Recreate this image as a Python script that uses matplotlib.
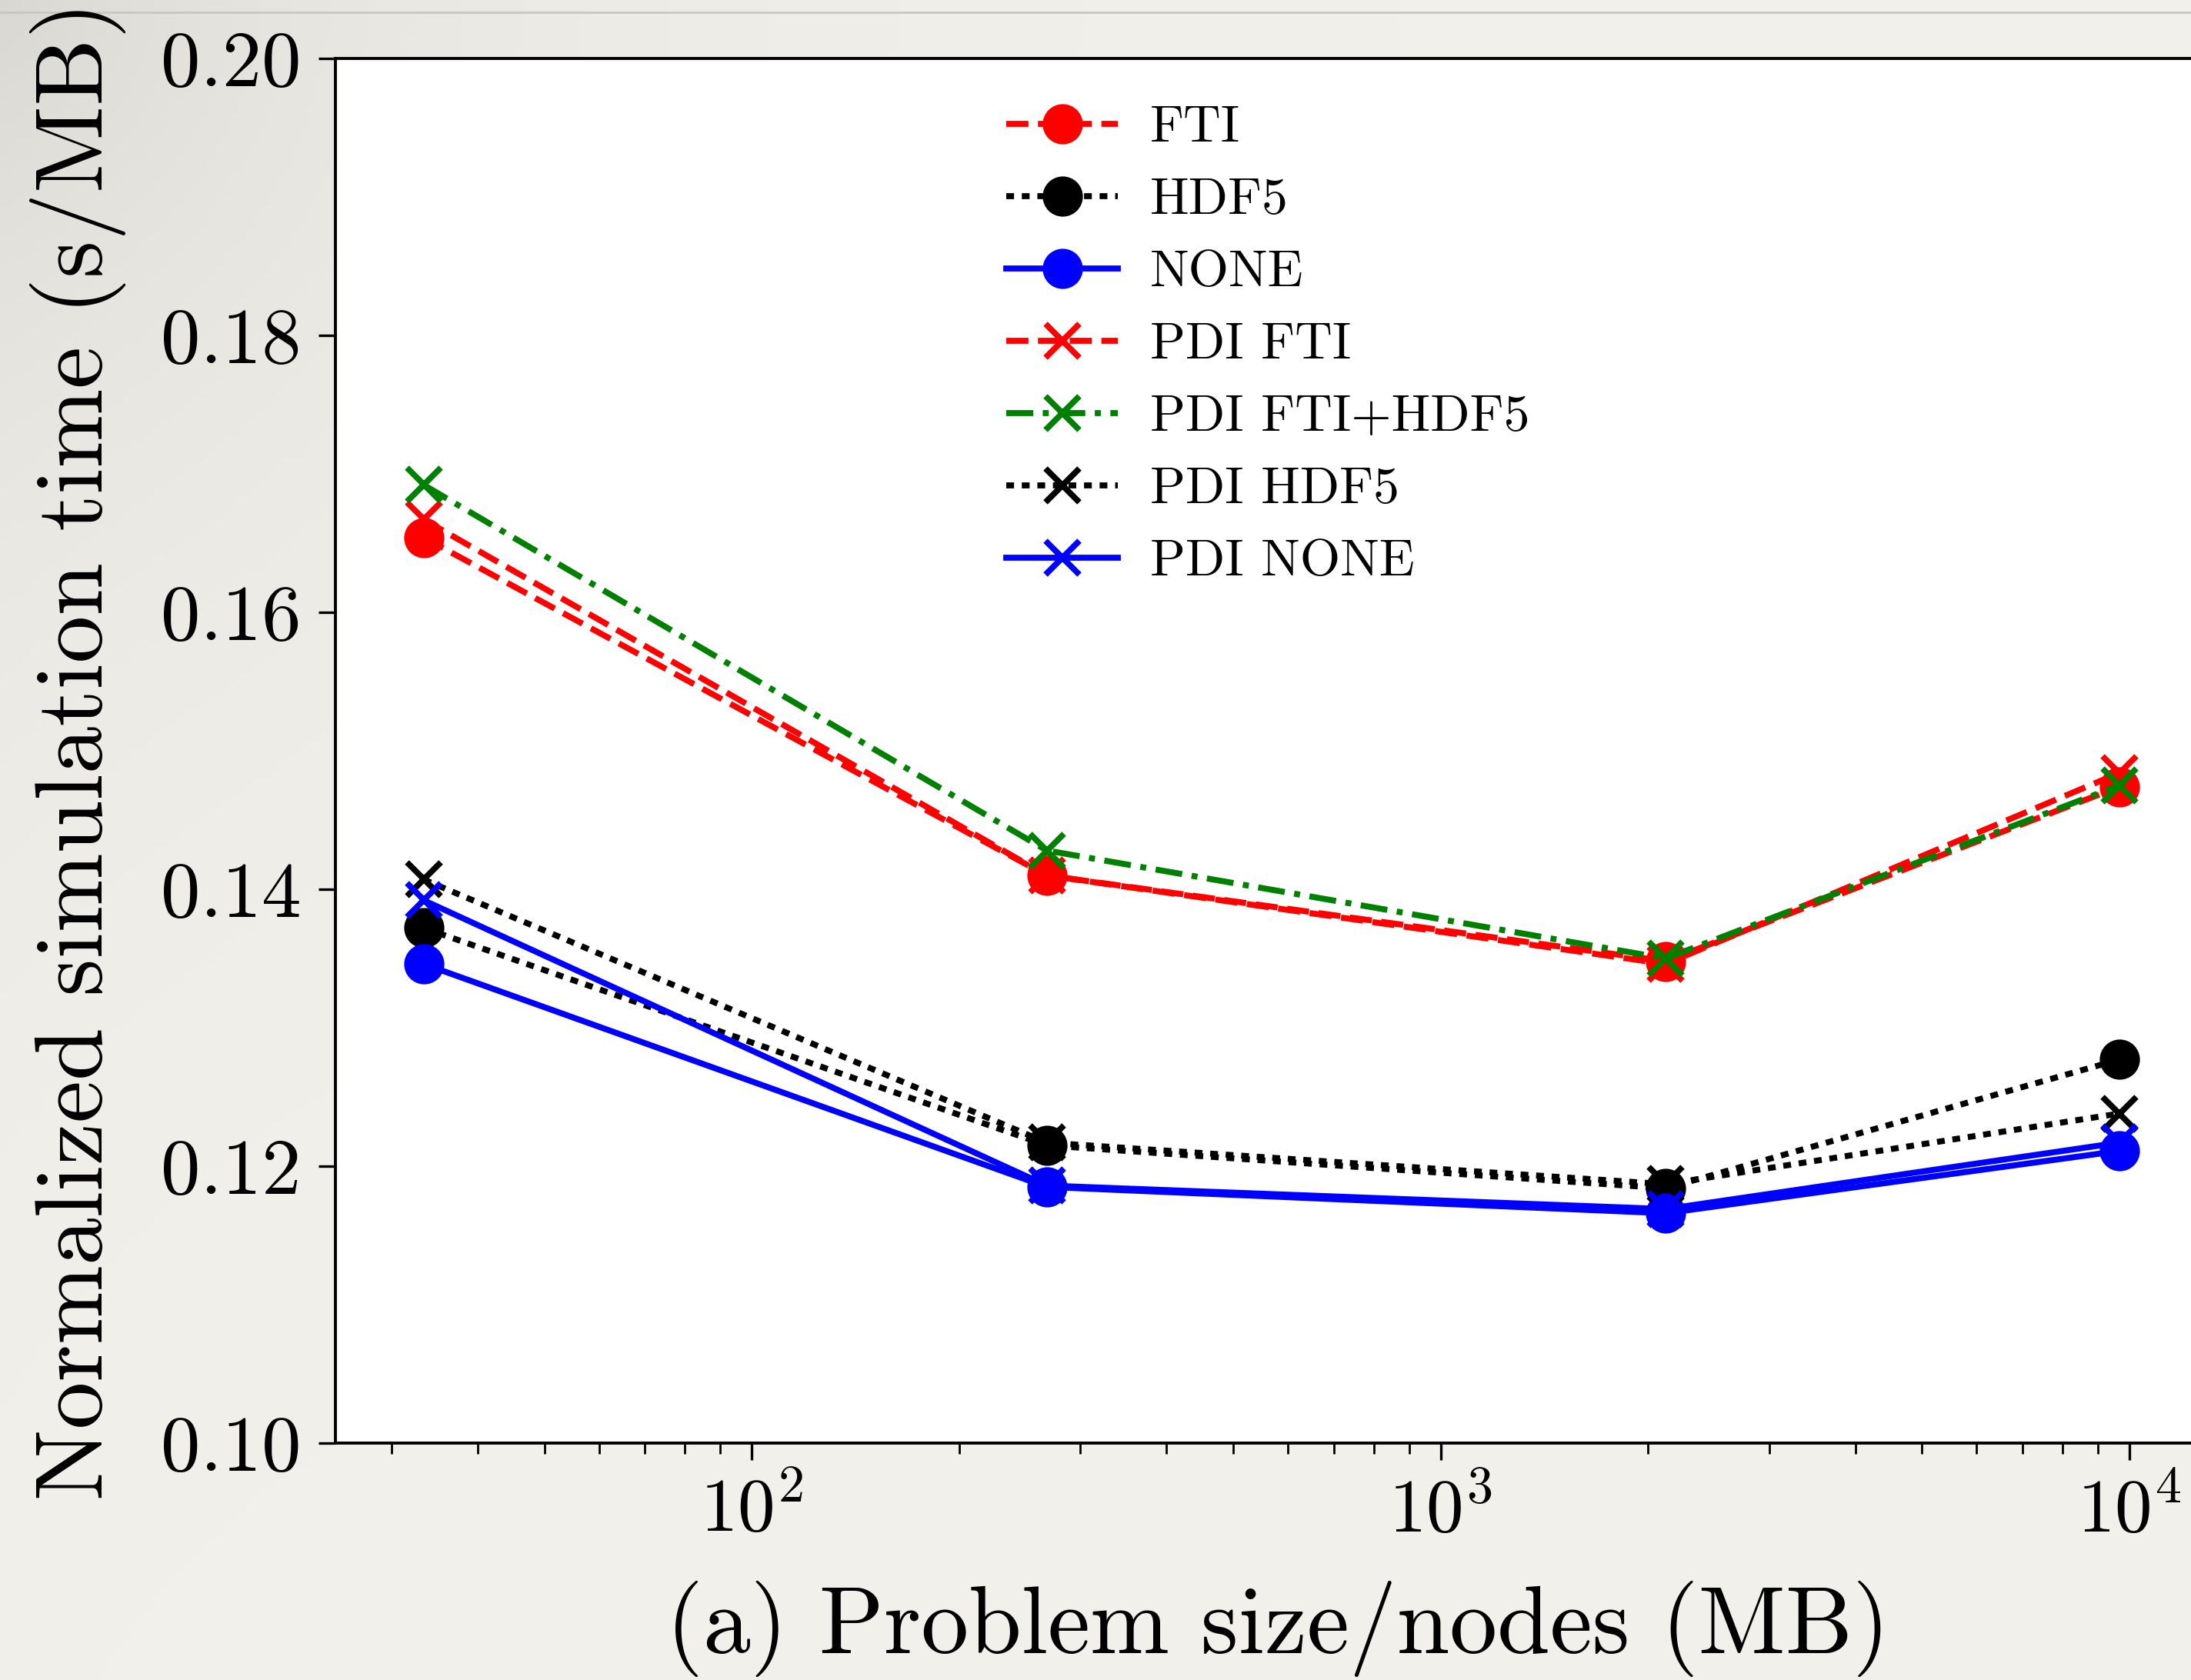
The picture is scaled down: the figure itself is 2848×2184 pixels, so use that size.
import numpy as np
import matplotlib
matplotlib.use("Agg")
import matplotlib.pyplot as plt

# ---------------- data ----------------
sizes = [33.4, 268, 2122, 9670]   # Problem size / nodes (MB)
fti = [0.1654, 0.1410, 0.1348, 0.1474]
hdf5 = [0.1372, 0.1215, 0.1184, 0.1277]
none = [0.1346, 0.1185, 0.1166, 0.1211]
pdi_fti = [0.1667, 0.1410, 0.1346, 0.1484]
pdi_fti_hdf5 = [0.1692, 0.1428, 0.1350, 0.1475]
pdi_hdf5 = [0.1407, 0.1217, 0.1187, 0.1238]
pdi_none = [0.1392, 0.1186, 0.1169, 0.1217]
labels = ["FTI", "HDF5", "NONE", "PDI FTI", "PDI FTI+HDF5", "PDI HDF5", "PDI NONE"]
yticks = [0.10, 0.12, 0.14, 0.16, 0.18, 0.20]

plt.rcParams["font.family"] = ["cmr10", "DejaVu Serif"]
plt.rcParams["mathtext.fontset"] = "cm"
plt.rcParams["axes.unicode_minus"] = False
plt.rcParams["axes.formatter.use_mathtext"] = True

W, H = 2848, 2184
DPI = 200
fig = plt.figure(figsize=(W / DPI, H / DPI), dpi=DPI)
bgc = np.array([243, 241, 235]) / 255.0
fig.patch.set_facecolor(bgc)

# paper background with a soft vignette toward the upper-left corner
bg = fig.add_axes([0, 0, 1, 1], zorder=-10)
bg.axis("off")
yy, xx = np.mgrid[0:220, 0:285]
d = np.sqrt((xx * 10.0) ** 2 + (yy * 10.0) ** 2)
dark = 0.085 * np.exp(-d / 600.0) + 0.02 * np.exp(-(xx * 10.0) / 250.0) * np.exp(-(yy * 10.0) / 1200.0)
img = bgc[None, None, :] * (1 - dark[..., None])
bg.imshow(img, extent=[0, 1, 0, 1], aspect="auto", origin="upper")
bg.set_xlim(0, 1)
bg.set_ylim(0, 1)
bg.plot([0, 1], [1 - 16 / H, 1 - 16 / H], color="#c9c7c1", lw=1.0)

# main axes (right edge extends slightly past the figure, as in the crop)
left_px, right_px, top_px, bot_px = 436, 2886, 76, 1876
ax = fig.add_axes([left_px / W, 1 - bot_px / H, (right_px - left_px) / W, (bot_px - top_px) / H])
ax.set_facecolor("white")
ax.set_xscale("log")
lo = 1.3956
ax.set_xlim(10 ** lo, 10 ** (lo + (right_px - left_px) / 895.4))
ax.set_ylim(0.10, 0.20)
ax.set_yticks(yticks)
ax.set_yticklabels([f"{v:.2f}" for v in yticks])

lw = 2.8
ms = 16
styles = [
    (fti, "red", (0, (3.7, 1.6)), "o"),
    (hdf5, "black", (0, (1.3, 1.3)), "o"),
    (none, "blue", "-", "o"),
    (pdi_fti, "red", (0, (3.7, 1.6)), "x"),
    (pdi_fti_hdf5, "green", (0, (4.5, 1.6, 1.0, 1.6)), "x"),
    (pdi_hdf5, "black", (0, (1.3, 1.3)), "x"),
    (pdi_none, "blue", "-", "x"),
]
for (vals, col, ls, mk), lab in zip(styles, labels):
    ax.plot(sizes, vals, color=col, linestyle=ls, marker=mk, lw=lw,
            markersize=ms, markeredgewidth=lw, label=lab)

for s in ax.spines.values():
    s.set_linewidth(1.4)
ax.tick_params(axis="y", which="major", length=8, width=1.2, labelsize=37, pad=8)
ax.tick_params(axis="x", which="major", length=8, width=1.2, labelsize=35, pad=8)
ax.tick_params(axis="x", which="minor", length=5, width=1.0)

ax.set_xlabel("(a) Problem size/nodes (MB)", fontsize=44.5, labelpad=16)
ax.set_ylabel("Normalized simulation time (s/MB)", fontsize=44.5, labelpad=16)

leg = ax.legend(loc="upper left", bbox_to_anchor=(1308 / W, 1 - 137 / H),
                bbox_transform=fig.transFigure, frameon=False, fontsize=24.3,
                handlelength=2.15, handletextpad=0.62, labelspacing=0.50,
                borderpad=0, borderaxespad=0)

fig.savefig("out.png", dpi=DPI, facecolor=fig.get_facecolor())
